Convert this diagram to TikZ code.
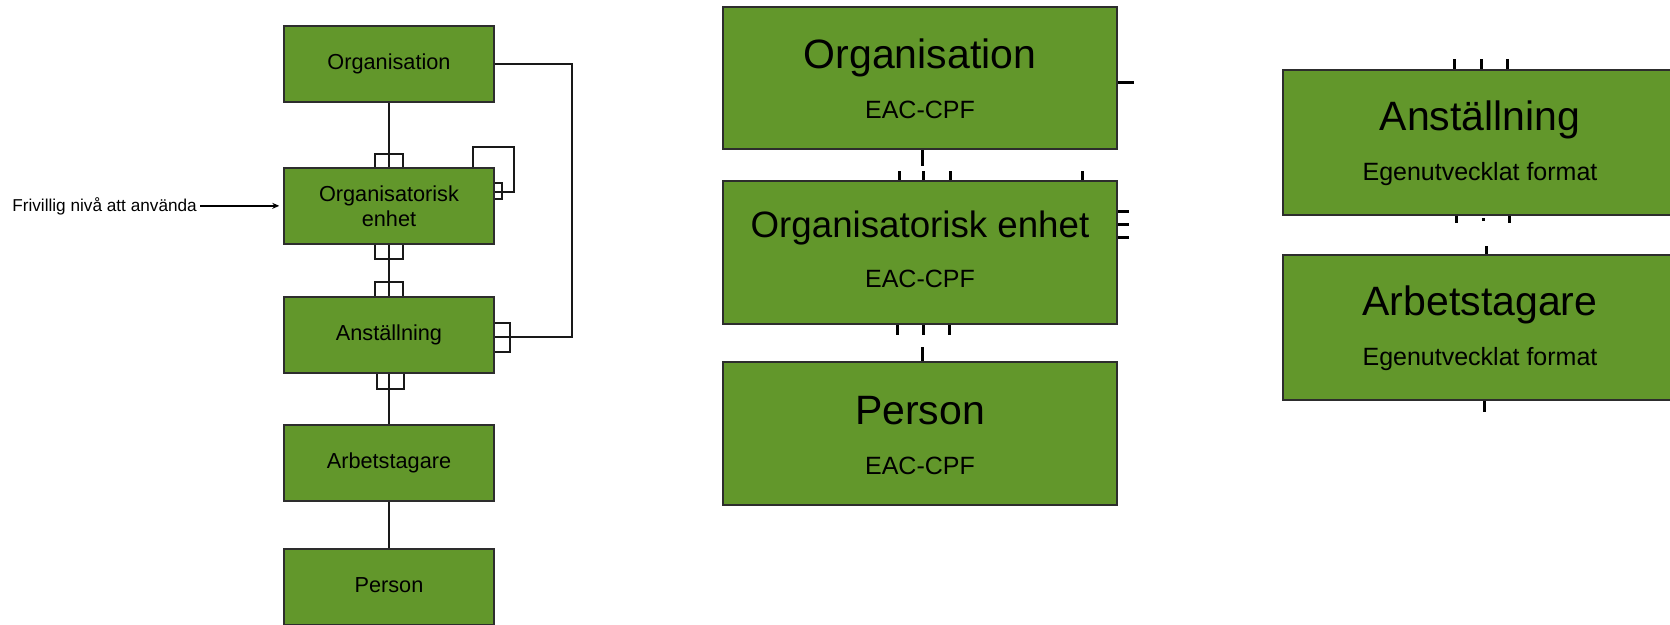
\documentclass[tikz,border=0pt]{standalone}
\usepackage{fontspec}
\setmainfont{Liberation Sans}
\usetikzlibrary{calc,arrows.meta}
\definecolor{boxgreen}{RGB}{98,151,43}
\definecolor{edgegray}{RGB}{45,45,45}
\begin{document}
\begin{tikzpicture}[x=1pt,y=-1pt,
  lbox/.style={draw=edgegray, fill=boxgreen, line width=1.5pt,
    minimum width=210pt, minimum height=76pt, inner sep=0pt,
    align=center, font=\fontsize{21.7}{25}\selectfont},
  lone/.style={lbox, text height=15.6pt, text depth=4.6pt},
  mbox/.style={draw=edgegray, fill=boxgreen, line width=2.4pt,
    minimum width=394pt, minimum height=143pt, inner sep=0pt},
  bigtxt/.style={anchor=base, inner sep=0pt, font=\fontsize{41}{41}\selectfont},
  subtxt/.style={anchor=base, inner sep=0pt, font=\fontsize{25}{25}\selectfont},
  link/.style={draw=black!90, line width=2pt},
  port/.style={draw=black!90, line width=1.6pt},
  stub/.style={draw=black, line width=3pt}]
\useasboundingbox (0,0) rectangle (1670,624);
\clip (0,0) rectangle (1670,624);

% ---------- left: hierarchy ----------
\node[lone] (l1) at (389,64)  {Organisation};
\node[lbox] (l2) at (389,206) {Organisatorisk\\enhet};
\node[lone] (l3) at (389,335) {Anställning};
\node[lone] (l4) at (389,463) {Arbetstagare};
\node[lone] (l5) at (389,587) {Person};

\draw[link] (l1.south) -- (l2.north);
\draw[link] (l2.south) -- (l3.north);
\draw[link] (l3.south) -- (l4.north);
\draw[link] (l4.south) -- (l5.north);

% ports on the vertical links
\draw[port] ($(l2.north)+(-14,0)$) -- ++(0,-13) -- ++(28,0) -- ++(0,13);
\draw[port] ($(l2.south)+(-14,0)$) -- ++(0,14) -- ++(28,0) -- ++(0,-14);
\draw[port] ($(l3.north)+(-14,0)$) -- ++(0,-14) -- ++(28,0) -- ++(0,14);
\draw[port] ($(l3.south)+(-12,0)$) -- ++(0,15) -- ++(27,0) -- ++(0,-15);

% Organisation -- Anställning
\coordinate (bend) at (572,337);
\draw[link] (l1.east) -| (bend) -- ($(l3.east)+(0,2)$);
\draw[port] ($(l3.east)+(0,-12)$) -- ++(15,0) -- ++(0,29) -- ++(-15,0);

% recursive link on Organisatorisk enhet
\coordinate (loopa) at (473,147);
\coordinate (loopb) at (514,192);
\draw[link] (l2.north -| loopa) -- (loopa) -| (loopb) -- ($(l2.east)+(0,-14)$);
\draw[port] ($(l2.east)+(0,-23)$) -- ++(7,0) -- ++(0,16) -- ++(-7,0);

% optional level note
\node[anchor=base east, inner sep=0pt, font=\fontsize{17.2}{20}\selectfont]
  (note) at (197,211) {Frivillig nivå att använda};
\draw[line width=1.5pt, -{Stealth[length=7pt,width=6pt]},
  shorten <=3pt, shorten >=4pt] (note.east) -- (l2.west |- note.east);

% ---------- middle: EAC-CPF entities ----------
\node[mbox, minimum height=142pt] (m1) at (920,78) {};
\node[mbox] (m2) at (920,252.5) {};
\node[mbox] (m3) at (920,433.5) {};

\node[bigtxt] (m1t) at (920,68) {Organisation};
\node[subtxt] (m1s) at (920,118) {EAC-CPF};
\node[bigtxt, font=\fontsize{36.7}{37}\selectfont] (m2t) at (920,237) {Organisatorisk enhet};
\node[subtxt] (m2s) at (920,287) {EAC-CPF};
\node[bigtxt] (m3t) at (920,424) {Person};
\node[subtxt] (m3s) at (920,474) {EAC-CPF};

\draw[stub] (m1.east |- 0,82) -- ++(16,0);
\draw[stub] (m1.south -| 922,0) -- ++(0,16);
\foreach \x in {899,923,950,1082}
  \draw[stub] (m2.north -| \x,0) -- ++(0,-9);
\foreach \y in {211,224,237}
  \draw[stub] (m2.east |- 0,\y) -- ++(11,0);
\foreach \x in {897,923,949}
  \draw[stub] (m2.south -| \x,0) -- ++(0,10);
\draw[stub] (m3.north -| 922,0) -- ++(0,-14);

% ---------- right: own format entities ----------
\node[mbox, minimum height=145pt] (r1) at (1480,142.5) {};
\node[mbox, minimum height=145pt] (r2) at (1480,327.5) {};

\node[bigtxt] (r1t) at (1480,130) {Anställning};
\node[subtxt] (r1s) at (1480,180) {Egenutvecklat format};
\node[bigtxt] (r2t) at (1480,315) {Arbetstagare};
\node[subtxt] (r2s) at (1480,365) {Egenutvecklat format};

\foreach \x in {1454,1481,1507}
  \draw[stub] (r1.north -| \x,0) -- ++(0,-10);
\draw[stub] (r1.south -| 1456,0) -- ++(0,7);
\draw[stub] (1483,218) -- (1483,221);
\draw[stub] (r1.south -| 1509,0) -- ++(0,7);
\draw[stub] (r2.north -| 1486,0) -- ++(0,-8);
\draw[stub] (r2.south -| 1484,0) -- ++(0,11);
\end{tikzpicture}
\end{document}
